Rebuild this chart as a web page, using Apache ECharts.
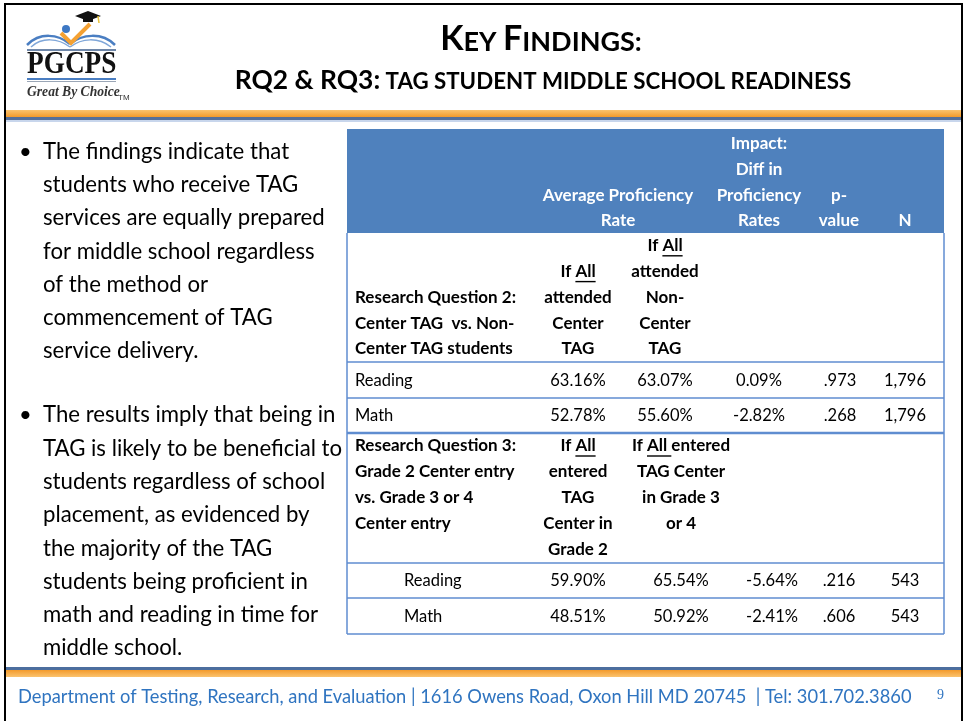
<!DOCTYPE html>
<html><head><meta charset="utf-8">
<script src="https://cdn.jsdelivr.net/npm/echarts@6/dist/echarts.min.js"></script>
<style>html,body{margin:0;padding:0;background:#fff}#main{width:964px;height:721px}</style>
</head><body><div id="main"></div>
<script>
// ---------------- data ----------------
const headerAPR = ['Average Proficiency', 'Rate'];
const headerImpact = ['Impact:', 'Diff in', 'Proficiency', 'Rates'];
const headerP = ['p-', 'value'];
const headerN = ['N'];
const subjects = ['Reading', 'Math'];

const rq2Title = ['Research Question 2:', 'Center TAG  vs. Non-', 'Center TAG students'];
const rq2GroupA = ['If All', 'attended', 'Center', 'TAG'];
const rq2GroupB = ['If All', 'attended', 'Non-', 'Center', 'TAG'];
const rq2RateA = [63.16, 52.78];
const rq2RateB = [63.07, 55.60];
const rq2Diff = [0.09, -2.82];
const rq2P = [0.973, 0.268];
const rq2N = [1796, 1796];

const rq3Title = ['Research Question 3:', 'Grade 2 Center entry', 'vs. Grade 3 or 4', 'Center entry'];
const rq3GroupA = ['If All', 'entered', 'TAG', 'Center in', 'Grade 2'];
const rq3GroupB = ['If All entered', 'TAG Center', 'in Grade 3', 'or 4'];
const rq3RateA = [59.90, 48.51];
const rq3RateB = [65.54, 50.92];
const rq3Diff = [-5.64, -2.41];
const rq3P = [0.216, 0.606];
const rq3N = [543, 543];

const bullet1 = ['The findings indicate that', 'students who receive TAG', 'services are equally prepared',
  'for middle school regardless', 'of the method or', 'commencement of TAG', 'service delivery.'];
const bullet2 = ['The results imply that being in', 'TAG is likely to be beneficial to', 'students regardless of school',
  'placement, as evidenced by', 'the majority of the TAG', 'students being proficient in',
  'math and reading in time for', 'middle school.'];
const footerText = 'Department of Testing, Research, and Evaluation | 1616 Owens Road, Oxon Hill MD 20745  | Tel: 301.702.3860';
const pageNumber = '9';

// ---------------- layout / style ----------------
const FONT = 'Lato, "Open Sans", sans-serif';
const TFS = 17;          // table bold font size
const DFS = 16.5;        // table data font size
const LH = 25.8;         // table line height
const BLUE = '#4F81BD';
const BORDER = '#5F8DD0';
const rows = [
  { kind: 'header', h: 104 },
  { kind: 'rq2', h: 129 },
  { kind: 'data', g: 2, i: 0, h: 36 },
  { kind: 'data', g: 2, i: 1, h: 35 },
  { kind: 'rq3', h: 130 },
  { kind: 'data', g: 3, i: 0, h: 35 },
  { kind: 'data', g: 3, i: 1, h: 36 }
];
const TABLE_W = 597, TABLE_H = rows.reduce((s, r) => s + r.h, 0);

const pct = v => v.toFixed(2) + '%';
const pv = v => v.toFixed(3).replace(/^0/, '');
const nf = v => v.toLocaleString('en-US');

const mctx = document.createElement('canvas').getContext('2d');
function tw(s, bold) { mctx.font = (bold ? 'bold ' : '') + (bold ? TFS : DFS) + 'px ' + FONT; return mctx.measureText(s).width; }

function textEl(s, x, y, align, bold, color) {
  return { type: 'text', silent: true, style: { text: s, x: x, y: y, align: align, verticalAlign: 'middle',
    font: (bold ? 'bold ' + TFS : DFS) + 'px ' + FONT, fill: color || '#000' } };
}
function linesEl(out, lines, x, yFirst, align, bold, color, underline) {
  lines.forEach((s, k) => {
    const y = yFirst + k * LH;
    out.push(textEl(s, x, y, align, bold, color));
    if (underline) {
      const idx = s.indexOf('All');
      if (idx >= 0) {
        const full = tw(s, bold);
        const start = align === 'center' ? x - full / 2 : x;
        const seg = s.slice(idx, idx + 3) + (s.length > idx + 3 ? ' ' : '');
        const x0 = start + tw(s.slice(0, idx), bold), x1 = x0 + tw(seg, bold);
        out.push({ type: 'line', silent: true, shape: { x1: x0, y1: y + 10, x2: x1, y2: y + 10 }, style: { stroke: '#000', lineWidth: 1.4 } });
      }
    }
  });
}

function renderRow(params, api) {
  const idx = api.value(0);
  let top = 0; for (let k = 0; k < idx; k++) top += rows[k].h;
  const r = rows[idx];
  const p0 = api.coord([0, top]), p1 = api.coord([TABLE_W, top + r.h]);
  const X = o => api.coord([o, 0])[0];
  const yT = p0[1], yB = p1[1];
  const ch = [];
  if (r.kind === 'header') {
    ch.push({ type: 'rect', silent: true, shape: { x: p0[0], y: yT, width: p1[0] - p0[0], height: yB - yT }, style: { fill: BLUE } });
    const last = yB - 12;
    linesEl(ch, headerAPR, X(271), last - (headerAPR.length - 1) * LH, 'center', true, '#fff');
    linesEl(ch, headerImpact, X(412), last - (headerImpact.length - 1) * LH, 'center', true, '#fff');
    linesEl(ch, headerP, X(492), last - (headerP.length - 1) * LH, 'center', true, '#fff');
    linesEl(ch, headerN, X(558), last, 'center', true, '#fff');
  } else if (r.kind === 'rq2') {
    const last = yB - 13;
    linesEl(ch, rq2Title, X(8), last - (rq2Title.length - 1) * LH, 'left', true);
    linesEl(ch, rq2GroupA, X(231), last - (rq2GroupA.length - 1) * LH, 'center', true, '#000', true);
    linesEl(ch, rq2GroupB, X(318), last - (rq2GroupB.length - 1) * LH, 'center', true, '#000', true);
  } else if (r.kind === 'rq3') {
    const first = yT + 13;
    linesEl(ch, rq3Title, X(8), first, 'left', true);
    linesEl(ch, rq3GroupA, X(231), first, 'center', true, '#000', true);
    linesEl(ch, rq3GroupB, X(334), first, 'center', true, '#000', true);
  } else {
    const yc = (yT + yB) / 2 + 0.5;
    const i = r.i;
    if (r.g === 2) {
      ch.push(textEl(subjects[i], X(8), yc, 'left'));
      ch.push(textEl(pct(rq2RateA[i]), X(231), yc, 'center'));
      ch.push(textEl(pct(rq2RateB[i]), X(318), yc, 'center'));
      ch.push(textEl(pct(rq2Diff[i]), X(412), yc, 'center'));
      ch.push(textEl(pv(rq2P[i]), X(493), yc, 'center'));
      ch.push(textEl(nf(rq2N[i]), X(558), yc, 'center'));
    } else {
      ch.push(textEl(subjects[i], X(57), yc, 'left'));
      ch.push(textEl(pct(rq3RateA[i]), X(231), yc, 'center'));
      ch.push(textEl(pct(rq3RateB[i]), X(334), yc, 'center'));
      ch.push(textEl(pct(rq3Diff[i]), X(425), yc, 'center'));
      ch.push(textEl(pv(rq3P[i]), X(492), yc, 'center'));
      ch.push(textEl(nf(rq3N[i]), X(558), yc, 'center'));
    }
  }
  if (r.kind !== 'header') {
    ch.push({ type: 'line', silent: true, shape: { x1: p0[0], y1: yT, x2: p0[0], y2: yB }, style: { stroke: BORDER, lineWidth: 1.5 } });
    ch.push({ type: 'line', silent: true, shape: { x1: p1[0], y1: yT, x2: p1[0], y2: yB }, style: { stroke: BORDER, lineWidth: 1.5 } });
    ch.push({ type: 'line', silent: true, shape: { x1: p0[0], y1: yB, x2: p1[0], y2: yB }, style: { stroke: BORDER, lineWidth: r.kind === 'data' && r.g === 2 && r.i === 1 ? 2.5 : 1.5 } });
  }
  return { type: 'group', children: ch };
}

// ---------------- slide decoration ----------------
const graphics = [
  { type: 'rect', silent: true, shape: { x: 5, y: 4, width: 957, height: 725 }, style: { fill: 'none', stroke: '#000', lineWidth: 2 } },
  { type: 'rect', silent: true, shape: { x: 6, y: 110, width: 955, height: 7 },
    style: { fill: new echarts.graphic.LinearGradient(0, 0, 0, 1, [{ offset: 0, color: '#FBC36E' }, { offset: 1, color: '#F39A2B' }]) } },
  { type: 'rect', silent: true, shape: { x: 6, y: 117, width: 955, height: 3 }, style: { fill: '#56709A' } },
  { type: 'rect', silent: true, shape: { x: 6, y: 120, width: 955, height: 2 }, style: { fill: '#C8D6EC' } },
  { type: 'rect', silent: true, shape: { x: 6, y: 667, width: 955, height: 3 }, style: { fill: '#4C6E9E' } },
  { type: 'rect', silent: true, shape: { x: 6, y: 670, width: 955, height: 7 },
    style: { fill: new echarts.graphic.LinearGradient(0, 0, 0, 1, [{ offset: 0, color: '#F39A2B' }, { offset: 1, color: '#FBC36E' }]) } },
  // title
  { type: 'text', silent: true, style: { x: 541, y: 56, align: 'center', verticalAlign: 'bottom',
    text: '{b|K}{s|EY }{b|F}{s|INDINGS:}',
    rich: { b: { fontSize: 34, fontWeight: 'bold', fontFamily: FONT, fill: '#000', verticalAlign: 'bottom', lineHeight: 34 },
            s: { fontSize: 27, fontWeight: 'bold', fontFamily: FONT, fill: '#000', verticalAlign: 'bottom', lineHeight: 30 } } } },
  { type: 'text', silent: true, style: { x: 543, y: 93, align: 'center', verticalAlign: 'bottom',
    text: '{a|RQ2 & RQ3:}{b| TAG STUDENT MIDDLE SCHOOL READINESS}',
    rich: { a: { fontSize: 26.4, fontWeight: 'bold', fontFamily: FONT, fill: '#000', verticalAlign: 'bottom', lineHeight: 26.4 },
            b: { fontSize: 22.3, fontWeight: 'bold', fontFamily: FONT, fill: '#000', verticalAlign: 'bottom', lineHeight: 23.8 } } } },
  // logo: book
  { type: 'bezierCurve', silent: true, shape: { x1: 27, y1: 45, x2: 70, y2: 44, cpx1: 40, cpy1: 32, cpx2: 58, cpy2: 34 }, style: { stroke: '#4A7EC2', lineWidth: 2.5, fill: 'none' } },
  { type: 'bezierCurve', silent: true, shape: { x1: 70, y1: 44, x2: 115, y2: 45, cpx1: 82, cpy1: 34, cpx2: 102, cpy2: 32 }, style: { stroke: '#4A7EC2', lineWidth: 2.5, fill: 'none' } },
  { type: 'bezierCurve', silent: true, shape: { x1: 31, y1: 47, x2: 70, y2: 47, cpx1: 42, cpy1: 37, cpx2: 58, cpy2: 38 }, style: { stroke: '#7FA6D8', lineWidth: 1.5, fill: 'none' } },
  { type: 'bezierCurve', silent: true, shape: { x1: 70, y1: 47, x2: 111, y2: 47, cpx1: 82, cpy1: 38, cpx2: 98, cpy2: 37 }, style: { stroke: '#7FA6D8', lineWidth: 1.5, fill: 'none' } },
  { type: 'rect', silent: true, shape: { x: 27, y: 49, width: 89, height: 2 }, style: { fill: '#6E86A8' } },
  // logo: figure
  { type: 'circle', silent: true, shape: { cx: 66, cy: 29, r: 4 }, style: { fill: '#3D78C4' } },
  { type: 'polyline', silent: true, shape: { points: [[61, 33], [71, 43], [90, 24]] }, style: { stroke: '#F4A133', lineWidth: 4, fill: 'none' } },
  { type: 'polygon', silent: true, shape: { points: [[75, 16], [88, 11], [101, 16], [88, 21]] }, style: { fill: '#111' } },
  { type: 'rect', silent: true, shape: { x: 83, y: 17, width: 10, height: 5 }, style: { fill: '#111' } },
  { type: 'line', silent: true, shape: { x1: 98, y1: 16, x2: 99, y2: 23 }, style: { stroke: '#E8C33A', lineWidth: 1.5 } },
  // logo: text
  { type: 'text', silent: true, x: 27, y: 65, scaleX: 0.88, style: { x: 0, y: 0, text: 'PGCPS', align: 'left', verticalAlign: 'middle',
    font: 'bold 31px "Liberation Serif", "DejaVu Serif", serif', fill: '#111' } },
  { type: 'rect', silent: true, shape: { x: 27, y: 78, width: 89, height: 2 }, style: { fill: '#4A7EC2' } },
  { type: 'rect', silent: true, shape: { x: 27, y: 81, width: 89, height: 1 }, style: { fill: '#9AA6B6' } },
  { type: 'text', silent: true, style: { x: 27, y: 92, text: 'Great By Choice', align: 'left', verticalAlign: 'middle',
    font: 'italic bold 13.6px "Liberation Serif", "DejaVu Serif", serif', fill: '#333' } },
  { type: 'text', silent: true, style: { x: 118, y: 98, text: 'TM', align: 'left', verticalAlign: 'middle',
    font: '8px "Liberation Sans", sans-serif', fill: '#333' } },
  // bullets
  { type: 'text', silent: true, style: { x: 19, y: 152, text: '\u2022', align: 'left', verticalAlign: 'middle', font: '22px ' + FONT, fill: '#000' } },
  { type: 'text', silent: true, style: { x: 43, y: 135.5, text: bullet1.join('\n'), align: 'left', verticalAlign: 'top', lineHeight: 33.1, font: '22.2px ' + FONT, fill: '#000' } },
  { type: 'text', silent: true, style: { x: 19, y: 415, text: '\u2022', align: 'left', verticalAlign: 'middle', font: '22px ' + FONT, fill: '#000' } },
  { type: 'text', silent: true, style: { x: 43, y: 398.5, text: bullet2.join('\n'), align: 'left', verticalAlign: 'top', lineHeight: 33.3, font: '22.2px ' + FONT, fill: '#000' } },
  // footer
  { type: 'text', silent: true, style: { x: 18, y: 697, text: footerText, align: 'left', verticalAlign: 'middle', font: '18.3px ' + FONT, fill: '#2F74C0' } },
  { type: 'text', silent: true, style: { x: 937, y: 695, text: pageNumber, align: 'left', verticalAlign: 'middle', font: '14px "Liberation Serif", serif', fill: '#2F74C0' } }
];

const chart = echarts.init(document.getElementById('main'), null, { renderer: 'canvas' });
chart.setOption({
  animation: false,
  backgroundColor: '#fff',
  grid: { left: 347, top: 129, width: TABLE_W, height: TABLE_H },
  xAxis: { type: 'value', min: 0, max: TABLE_W, show: false },
  yAxis: { type: 'value', min: 0, max: TABLE_H, inverse: true, show: false },
  graphic: graphics,
  series: [{
    type: 'custom',
    renderItem: renderRow,
    data: rows.map((r, i) => [i]),
    clip: false,
    silent: true
  }]
});
</script></body></html>
